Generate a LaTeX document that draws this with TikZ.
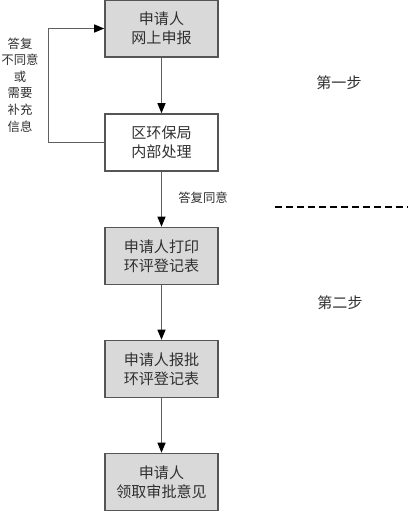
\documentclass[tikz,border=0pt]{standalone}
\usepackage{fontspec}
\setmainfont{Noto Sans CJK SC}
\usetikzlibrary{arrows.meta}
\definecolor{boxfill}{HTML}{D9D9D9}
\definecolor{boxline}{HTML}{555555}
\definecolor{flowline}{HTML}{606060}
\definecolor{inktext}{HTML}{303030}
\tikzset{
  stepbox/.style={draw=boxline, line width=1.2pt, minimum width=84.75pt, minimum height=42.75pt,
    align=center, inner sep=0pt, text=inktext, font=\fontsize{11.3}{14.25}\selectfont},
  greybox/.style={stepbox, fill=boxfill},
  flow/.style={draw=flowline, line width=1pt, -{Triangle[length=7.5pt,width=6pt,color=black]}},
  note/.style={text=inktext, font=\fontsize{9.3}{12.4}\selectfont, align=center, inner sep=0pt},
}
\begin{document}
\begin{tikzpicture}[x=0.75pt, y=-0.75pt]
    \useasboundingbox (0,0) rectangle (408,511);

    \node[greybox] (shenbao) at (161.5, 28.5) {申请人\\网上申报};
    \node[stepbox] (chuli) at (161.5, 142.5) {区环保局\\内部处理};
    \node[greybox] (dayin) at (161.5, 256) {申请人打印\\环评登记表};
    \node[greybox] (baopi) at (161.5, 369) {申请人报批\\环评登记表};
    \node[greybox] (lingqu) at (161.5, 482) {申请人\\领取审批意见};

    \draw[flow] (shenbao) -- (chuli);
    \draw[flow] (chuli) -- (dayin);
    \draw[flow] (dayin) -- (baopi);
    \draw[flow] (baopi) -- (lingqu);
    \draw[flow] (chuli.west) -- ++(-56, 0) |- (shenbao.west);

    \node[note] (butongyi) at (20, 85) {答复\\不同意\\或\\需要\\补充\\信息};
    \node[note, anchor=west] (tongyi) at (178, 198) {答复同意};

    % step separator
    \coordinate (sepL) at (275, 207);
    \coordinate (sepR) at (408, 207);
    \draw[black, line width=0.9pt, dash pattern=on 5.25pt off 3pt] (sepL) -- (sepR);
    \node[note, font=\fontsize{11.3}{13}\selectfont] (diyi) at (339, 83) {第一步};
    \node[note, font=\fontsize{11.3}{13}\selectfont] (dier) at (340, 303) {第二步};
\end{tikzpicture}
\end{document}
